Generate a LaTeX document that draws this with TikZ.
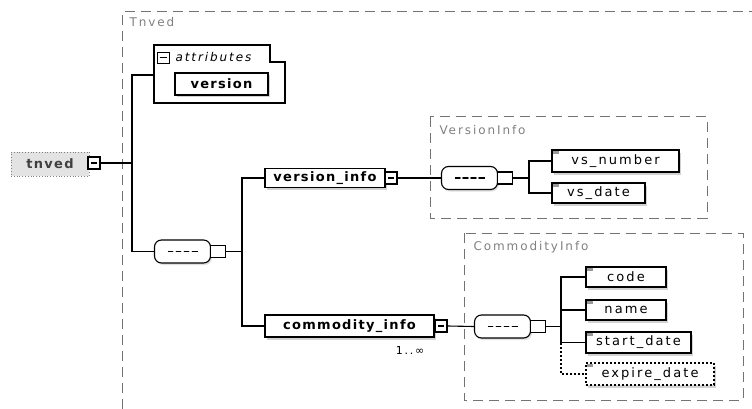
\documentclass[tikz,border=0pt]{standalone}
\usepackage{fontspec}
\setmainfont{DejaVu Sans}
\newfontfamily\elemfont[LetterSpace=10]{DejaVu Sans}
\newfontfamily\childfont[LetterSpace=16]{DejaVu Sans}
\usetikzlibrary{shadows}

\tikzset{
  conn/.style={line width=1.1pt},
  elem/.style={draw, line width=1.1pt, fill=white, inner sep=0pt,
    font=\elemfont\bfseries\fontsize{13}{15}\selectfont,
    drop shadow={shadow xshift=2pt, shadow yshift=-2.5pt, fill=gray!70, opacity=.5}},
  child/.style={elem, font=\childfont\fontsize{13}{15}\selectfont},
  expd/.style={draw, line width=1.1pt, fill=white, inner sep=0pt, minimum width=12, minimum height=12,
    path picture={\draw ([xshift=-3pt]path picture bounding box.center) -- ++(6pt,0);}},
  seqbox/.style={draw, line width=1.1pt, fill=white, rounded corners=7pt, minimum width=56, minimum height=23,
    drop shadow={shadow xshift=1.5pt, shadow yshift=-2pt, fill=gray!60, opacity=.4},
    path picture={\draw ([xshift=-15pt]path picture bounding box.center) -- ++(30pt,0);
      \foreach \d in {-8,0,8} \fill ([xshift=\d pt]path picture bounding box.center) circle (1.3pt);}},
  seqend/.style={draw, line width=1.1pt, fill=white, minimum width=15, minimum height=12, inner sep=0pt},
  grp/.style={draw=black!55, dashed, dash pattern=on 10pt off 6pt, line width=1pt},
  grplabel/.style={anchor=west, text=black!50, font=\childfont\fontsize{12}{14}\selectfont},
}

\begin{document}
\begin{tikzpicture}[x=1pt,y=-1pt]
\useasboundingbox (0,0) rectangle (752,409);

% outer group Tnved
\draw[grp] (122,409) -- (122,12) -- (752,12);
\node[grplabel] (tnvedlbl) at (126,22) {Tnved};

% root element
\node[draw=gray, dotted, thick, fill=gray!22, minimum width=78, minimum height=24, inner sep=0pt,
  font=\elemfont\bfseries\fontsize{13}{15}\selectfont, text=black!75] (tnved) at (50,164) {tnved\hspace{8pt}};
\node[expd] (tnx) at (94,163) {};

% attributes
\draw[line width=1.1pt, fill=white] (154,103) -- (154,45) -- (270,45) -- (270,62) -- (285,62) -- (285,103) -- cycle;
\draw[thick] (157,52) rectangle (169,63);
\draw[thick] (159.5,57.5) -- (166.5,57.5);
\node[anchor=west, font=\childfont\itshape\fontsize{12}{14}\selectfont] (attlbl) at (172,57) {attributes};
\node[elem, minimum width=93, minimum height=22] (ver) at (221.5,84) {version};
\coordinate (att) at (154,75);

% first sequence
\coordinate (j1) at (132,163);
\node[seqbox] (seq1) at (182.5,251.5) {};
\node[seqend] (seq1x) at (218,251.5) {};
\coordinate (j2) at (242,251.5);

\draw[conn] (tnx.east) -- (j1);
\draw[conn] (att) -| (j1) |- (seq1.west);
\draw[conn] (seq1x.east) -- (j2);

% version_info
\node[elem, minimum width=120, minimum height=19] (vi) at (325,178) {version\_info};
\node[expd] (vix) at (391,178) {};
\node[elem, minimum width=169, minimum height=22] (ci) at (349.5,326) {commodity\_info};
\node[expd] (cix) at (441,326) {};
\node[font=\childfont\fontsize{11}{13}\selectfont] (card) at (410,350) {1..∞};
\draw[conn] (j2) |- (vi.west);
\draw[conn] (j2) |- (ci.west);

% VersionInfo
\draw[grp] (430,117) rectangle (707,218);
\node[grplabel] (vilbl) at (436,130) {VersionInfo};
\node[seqbox] (seq2) at (469.5,178) {};
\node[seqend] (seq2x) at (505,178) {};
\coordinate (j3) at (529,178);
\node[child, minimum width=127, minimum height=22] (vsn) at (615.5,161) {vs\_number};
\node[child, minimum width=93, minimum height=20] (vsd) at (598.5,193) {vs\_date};
\draw[conn] (vix.east) -- (seq2.west);
\draw[conn] (seq2x.east) -- (j3);
\draw[conn] (j3) |- (vsn.west);
\draw[conn] (j3) |- (vsd.west);

% CommodityInfo
\draw[grp] (464,233) rectangle (743,400);
\node[grplabel] (cilbl) at (470,247) {CommodityInfo};
\node[seqbox] (seq3) at (502.5,326.5) {};
\node[seqend] (seq3x) at (538,326.5) {};
\coordinate (j4) at (561,326.5);
\node[child, minimum width=80, minimum height=20] (code) at (626,277) {code};
\node[child, minimum width=80, minimum height=20] (name) at (626,310) {name};
\node[child, minimum width=105, minimum height=21] (sd) at (638.5,342.5) {start\_date};
\node[child, dashed, dash pattern=on 2pt off 2pt, minimum width=128, minimum height=22] (ed) at (650,374) {expire\_date};
\draw[conn] (cix.east) -- (seq3.west);
\draw[conn] (seq3x.east) -- (j4);
\draw[conn] (j4) |- (code.west);
\draw[conn] (j4) |- (name.west);
\draw[conn] (j4) |- (sd.west);
\draw[conn, dashed, dash pattern=on 2pt off 2pt] (j4) |- (ed.west);

% simple type marks
\foreach \n in {vsn,vsd,code,name,sd,ed}
  \fill[gray!80] ([xshift=2pt,yshift=-2pt]\n.north west) rectangle ++(6pt,-3pt);

\end{tikzpicture}
\end{document}
